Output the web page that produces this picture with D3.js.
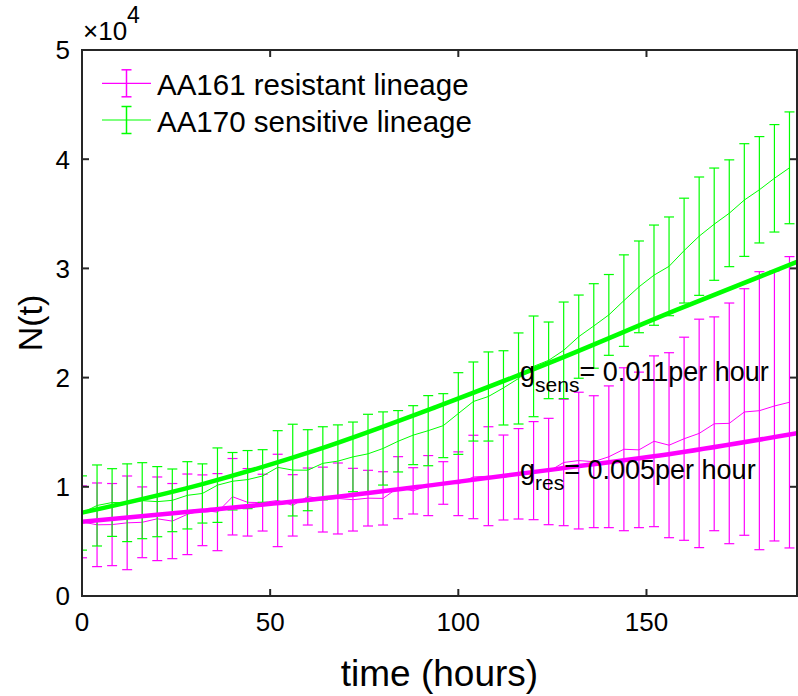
<!DOCTYPE html>
<html>
<head>
<meta charset="utf-8">
<script src="https://cdn.jsdelivr.net/npm/d3@7/dist/d3.min.js"></script>
<style>
  html, body { margin: 0; padding: 0; background: #fff; }
  svg { display: block; font-family: "Liberation Sans", Arial, Helvetica, sans-serif; }
</style>
</head>
<body>
<svg id="chart" width="798" height="696"></svg>
<script>
// ---- data (values in thousands of cells) ----
const hours = [0,4,8,12,16,20,24,28,32,36,40,44,48,52,56,60,64,68,72,76,80,84,88,92,96,100,104,108,112,116,120,124,128,132,136,140,144,148,152,156,160,164,168,172,176,180,184,188];

const resMean = [6.79,6.52,6.54,6.70,6.75,7.07,6.86,7.48,7.85,7.68,9.09,8.58,8.55,8.75,8.30,9.11,8.83,8.93,8.82,8.96,8.94,9.92,9.63,10.11,10.35,10.28,10.90,10.97,10.85,11.19,11.48,11.40,12.23,12.40,12.30,12.75,13.44,13.38,14.17,13.81,14.40,14.89,15.77,15.81,16.85,16.97,17.40,17.74];
const resErr  = [3.29,3.83,3.76,4.29,3.24,3.83,3.44,3.69,3.24,3.53,3.50,3.09,2.60,4.23,2.81,2.61,2.97,3.25,2.87,2.55,2.44,2.84,2.12,2.75,1.95,2.92,3.82,4.53,3.89,4.14,4.49,4.87,5.79,6.26,6.04,6.49,7.46,7.12,7.82,8.47,9.30,10.46,9.79,11.02,11.29,12.73,12.36,13.34];

const sensMean = [7.60,8.29,8.56,8.54,8.73,8.64,8.76,9.22,9.39,10.15,10.51,10.66,10.99,11.78,11.53,11.52,12.15,12.35,12.74,13.02,13.51,14.17,14.73,15.14,15.60,16.71,17.81,18.27,19.06,19.92,21.03,21.58,22.50,23.75,24.73,25.74,27.05,28.31,29.38,30.19,31.63,32.95,34.05,35.05,36.26,37.20,38.25,39.21];
const sensErr  = [3.40,3.71,3.10,3.56,3.48,3.21,2.87,3.08,2.71,3.41,2.63,2.66,2.41,3.36,4.20,3.71,3.35,3.32,3.19,3.62,3.35,2.81,2.70,3.21,2.93,3.74,3.62,4.08,3.40,4.17,4.61,3.51,4.42,3.81,3.87,3.70,4.19,4.20,4.59,4.52,4.80,5.42,5.14,4.89,5.16,4.87,4.92,5.12];

// fitted growth curves
const fitHours = [0,32,63,94,126,158,190];
const fitRes   = [6.80,7.82,8.90,10.20,11.62,13.10,14.90];
const fitSens  = [7.63,10.25,13.45,17.30,21.60,26.20,30.60];

const xTicks = [0,50,100,150];
const yTicks = [0,1,2,3,4,5];           // x 10^4
const legendLabels = ["AA161 resistant lineage","AA170 sensitive lineage"];
const colors = {res:"#ff00ff", sens:"#00ff00"};

// ---- layout ----
const W = 798, H = 696;
const m = {left:82, right:797, top:50, bottom:596};
const svg = d3.select("#chart");

const x = d3.scaleLinear().domain([0,190]).range([m.left, m.right]);
const y = d3.scaleLinear().domain([0,50]).range([m.bottom, m.top]);   // thousands

svg.append("defs").append("clipPath").attr("id","clip")
  .append("rect").attr("x",m.left).attr("y",m.top)
  .attr("width",m.right-m.left).attr("height",m.bottom-m.top);

const plot = svg.append("g").attr("clip-path","url(#clip)");

function errorBars(means, errs, color){
  const g = plot.append("g").attr("stroke",color).attr("stroke-width",1.2).attr("fill","none");
  const cap = 5;
  hours.forEach((h,i)=>{
    const cx = x(h), y1 = y(means[i]+errs[i]), y0 = y(means[i]-errs[i]);
    g.append("line").attr("x1",cx).attr("x2",cx).attr("y1",y1).attr("y2",y0);
    g.append("line").attr("x1",cx-cap).attr("x2",cx+cap).attr("y1",y1).attr("y2",y1);
    g.append("line").attr("x1",cx-cap).attr("x2",cx+cap).attr("y1",y0).attr("y2",y0);
  });
  const line = d3.line().x((d,i)=>x(hours[i])).y(d=>y(d));
  g.append("path").attr("d",line(means)).attr("stroke-width",1);
}
errorBars(resMean, resErr, colors.res);
errorBars(sensMean, sensErr, colors.sens);

const fitLine = d3.line().x((d,i)=>x(fitHours[i])).y(d=>y(d)).curve(d3.curveMonotoneX);
plot.append("path").attr("d",fitLine(fitRes)).attr("stroke",colors.res).attr("stroke-width",4.5).attr("fill","none");
plot.append("path").attr("d",fitLine(fitSens)).attr("stroke",colors.sens).attr("stroke-width",4.5).attr("fill","none");

// ---- axes box & ticks ----
const axisColor = "#262626";
const ax = svg.append("g");
ax.append("rect").attr("x",m.left).attr("y",m.top).attr("width",m.right-m.left).attr("height",m.bottom-m.top)
  .attr("fill","none").attr("stroke",axisColor).attr("stroke-width",2);
const tl = 7;
xTicks.forEach(v=>{
  const px = x(v);
  ax.append("line").attr("x1",px).attr("x2",px).attr("y1",m.bottom).attr("y2",m.bottom-tl).attr("stroke",axisColor).attr("stroke-width",2);
  ax.append("line").attr("x1",px).attr("x2",px).attr("y1",m.top).attr("y2",m.top+tl).attr("stroke",axisColor).attr("stroke-width",2);
  ax.append("text").attr("x",px).attr("y",631).attr("text-anchor","middle").attr("font-size",26).attr("fill","#000").text(v);
});
yTicks.forEach(v=>{
  const py = y(v*10);
  ax.append("line").attr("x1",m.left).attr("x2",m.left+tl).attr("y1",py).attr("y2",py).attr("stroke",axisColor).attr("stroke-width",2);
  ax.append("line").attr("x1",m.right).attr("x2",m.right-tl).attr("y1",py).attr("y2",py).attr("stroke",axisColor).attr("stroke-width",2);
  ax.append("text").attr("x",70).attr("y",py+9.3).attr("text-anchor","end").attr("font-size",26).attr("fill","#000").text(v);
});
// exponent
const ex = ax.append("text").attr("x",83).attr("y",40).attr("font-size",26).attr("fill","#000");
ex.append("tspan").text("\u00d710");
ex.append("tspan").attr("dy",-17).attr("font-size",23).text("4");

// axis labels
svg.append("text").attr("x",(m.left+m.right)/2).attr("y",686).attr("text-anchor","middle")
  .attr("font-size",37).attr("fill","#000").text("time (hours)");
svg.append("text").attr("transform","translate(42,323) rotate(-90)").attr("text-anchor","middle")
  .attr("font-size",34).attr("fill","#000").text("N(t)");

// ---- annotations ----
function annot(sub, rest, yy){
  const t = svg.append("text").attr("x",520).attr("y",yy).attr("font-size",27).attr("fill","#000");
  t.append("tspan").text("g");
  t.append("tspan").attr("dy",11).attr("font-size",21).text(sub);
  t.append("tspan").attr("dy",-11).text(rest);
}
annot("sens","= 0.011per hour",381);
annot("res","= 0.005per hour",479);

// ---- legend ----
const leg = svg.append("g");
[[colors.res,83.3],[colors.sens,120]].forEach(([c,ly],i)=>{
  leg.append("line").attr("x1",102).attr("x2",151).attr("y1",ly).attr("y2",ly).attr("stroke",c).attr("stroke-width",1.2);
  leg.append("line").attr("x1",126.5).attr("x2",126.5).attr("y1",ly-13.5).attr("y2",ly+13.5).attr("stroke",c).attr("stroke-width",1.5);
  leg.append("line").attr("x1",121.5).attr("x2",131.5).attr("y1",ly-13.5).attr("y2",ly-13.5).attr("stroke",c).attr("stroke-width",1.5);
  leg.append("line").attr("x1",121.5).attr("x2",131.5).attr("y1",ly+13.5).attr("y2",ly+13.5).attr("stroke",c).attr("stroke-width",1.5);
  leg.append("text").attr("x",157).attr("y",ly+11.5).attr("font-size",29.5).attr("fill","#000").text(legendLabels[i]);
});
</script>
</body>
</html>
